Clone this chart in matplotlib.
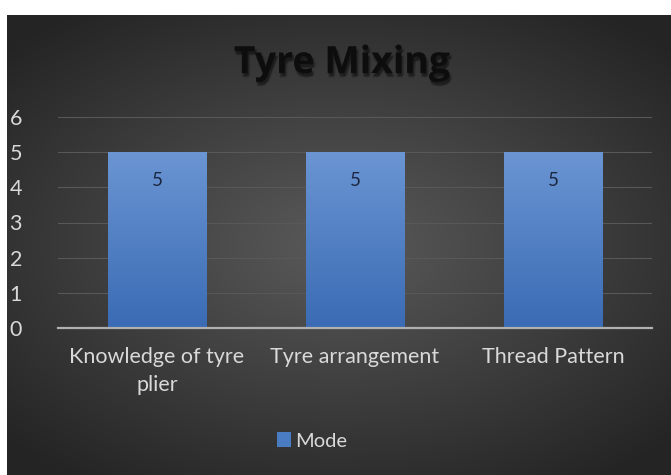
import numpy as np
import matplotlib
matplotlib.use("Agg")
import matplotlib.pyplot as plt
import matplotlib.patheffects as pe
from matplotlib.patches import Rectangle

categories = ["Knowledge of tyre\nplier", "Tyre arrangement", "Thread Pattern"]
values = [5, 5, 5]
series_name = "Mode"
title = "Tyre Mixing"
yticks = [0, 1, 2, 3, 4, 5, 6]

plt.rcParams['font.family'] = ['Lato', 'DejaVu Sans']

W, H = 671, 475
fig = plt.figure(figsize=(W / 100, H / 100), dpi=100, facecolor='white')

# dark radial-gradient chart background
bg = fig.add_axes([7 / W, 0, (W - 7) / W, (H - 15) / H])
bg.set_axis_off()
yy, xx = np.mgrid[-1:1:300j, -1:1:400j]
r = np.sqrt((xx * 0.9) ** 2 + (yy * 1.0) ** 2)
r = np.clip(r / 1.25, 0, 1)
inner = np.array([0x5a, 0x5a, 0x5a]) / 255
outer = np.array([0x24, 0x24, 0x24]) / 255
img = inner[None, None, :] * (1 - r[..., None]) + outer[None, None, :] * r[..., None]
bg.imshow(img, aspect='auto', extent=[0, 1, 0, 1])
bg.set_xlim(0, 1)
bg.set_ylim(0, 1)

ax = fig.add_axes([58 / W, 147 / H, 594 / W, 211 / H])
ax.set_facecolor('none')
x = np.arange(len(categories))
bars = ax.bar(x, values, width=0.495, color='#4a7cc4', zorder=3)
ax.set_xlim(-0.5, len(categories) - 0.5)
ax.set_ylim(0, 6)

# gradient fill on bars
grad = np.linspace(0, 1, 256)[:, None]
top = np.array([0x6b, 0x95, 0xd3]) / 255
bot = np.array([0x3a, 0x6b, 0xb4]) / 255
gimg = top[None, None, :] * (1 - grad[..., None]) + bot[None, None, :] * grad[..., None]
for b in bars:
    bx, bw, bh = b.get_x(), b.get_width(), b.get_height()
    im = ax.imshow(gimg, aspect='auto', extent=[bx, bx + bw, 0, bh], zorder=4)
    im.set_clip_path(b)
    ax.text(bx + bw / 2, bh - 0.8, f"{bh:g}", ha='center', va='center',
            fontsize=13.5, color='#1b2740', zorder=5)

ax.set_yticks(yticks)
ax.yaxis.grid(True, color='#585858', linewidth=0.8, zorder=0)
ax.set_axisbelow(True)
for s in ['top', 'right', 'left']:
    ax.spines[s].set_visible(False)
ax.spines['bottom'].set_color('#b0b0b0')
ax.spines['bottom'].set_linewidth(1.6)
ax.spines['bottom'].set_zorder(6)
ax.tick_params(axis='both', length=0, colors='#d9d9d9', labelsize=15.5)
ax.tick_params(axis='y', pad=26)
ax.set_xticks(x)
ax.set_xticklabels(categories, linespacing=1.45)
ax.tick_params(axis='x', pad=14)

shadow = [pe.SimplePatchShadow(offset=(dx, dy), shadow_rgbFace='black', alpha=0.12)
          for dx, dy in [(0.5, -1.5), (1.5, -2.5), (1.0, -3.0), (2.0, -2.0), (0.5, -3.0)]]
fig.text(342 / W, 1 - 63 / H, title, ha='center', va='center', fontsize=27,
         fontweight='bold', color='#0d0d0d', family=['Open Sans', 'DejaVu Sans'],
         path_effects=shadow + [pe.Normal()])

handle = Rectangle((0, 0), 1, 1, facecolor='#4a7cc4')
leg = fig.legend([handle], [series_name], loc='center', bbox_to_anchor=(312 / W, 1 - 441 / H),
                 frameon=False, fontsize=14.5, handlelength=0.7, handleheight=0.7,
                 handletextpad=0.2, labelcolor='#d9d9d9')

fig.savefig('out.png', dpi=100, facecolor='white')
